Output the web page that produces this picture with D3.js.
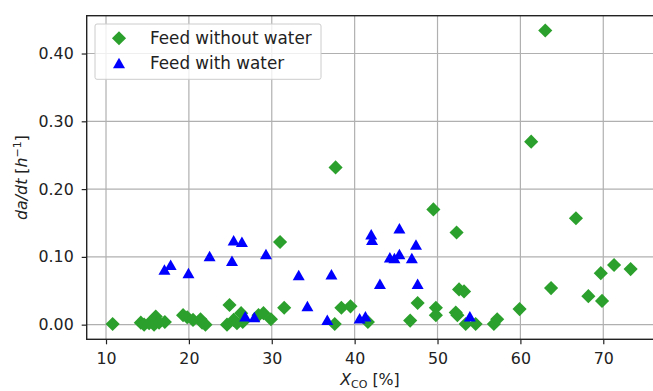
<!DOCTYPE html>
<html>
<head>
<meta charset="utf-8">
<script src="https://cdn.jsdelivr.net/npm/d3@7"></script>
<style>
  body { margin: 0; background: #fff; }
  svg { display: block; font-family: "DejaVu Sans", sans-serif; }
</style>
</head>
<body>
<div id="chart"></div>
<script>
// conversion X_CO [%] and deactivation rate da/dt [1/h]
const dryX = [10.8, 14.2, 14.6, 15.2, 15.8, 16.0, 16.4, 17.1, 19.3, 19.8, 20.5, 21.4, 21.6, 22.0,
  24.6, 24.9, 25.4, 25.8, 26.3, 26.5, 28.4, 29.0, 29.9, 31.0, 31.5, 37.6, 37.7, 38.4, 39.5, 41.6,
  46.7, 47.6, 49.5, 49.8, 49.8, 52.2, 52.4, 52.3, 52.6, 53.2, 53.4, 54.6, 56.8, 57.2, 59.9, 61.3,
  63.0, 63.7, 66.7, 68.2, 69.7, 69.85, 71.3, 73.3];
const dryY = [0.001, 0.003, 0.000, 0.002, 0.000, 0.012, 0.003, 0.004, 0.014, 0.011, 0.007, 0.008, 0.003, 0.000,
  0.000, 0.029, 0.007, 0.002, 0.017, 0.004, 0.014, 0.017, 0.008, 0.122, 0.025, 0.001, 0.232, 0.025, 0.027, 0.004,
  0.006, 0.032, 0.170, 0.025, 0.014, 0.018, 0.014, 0.136, 0.052, 0.049, 0.001, 0.001, 0.001, 0.008, 0.023, 0.270,
  0.434, 0.054, 0.157, 0.042, 0.076, 0.035, 0.088, 0.082];

const wetX = [17.05, 17.8, 19.95, 22.5, 25.2, 25.4, 26.4, 26.8, 27.9, 29.3, 33.25, 34.3, 36.7, 37.2,
  40.6, 41.3, 42.0, 42.1, 43.05, 44.25, 44.8, 45.4, 45.4, 46.9, 47.4, 47.6, 53.9];
const wetY = [0.081, 0.088, 0.076, 0.101, 0.094, 0.124, 0.122, 0.012, 0.011, 0.104, 0.073, 0.027, 0.007, 0.074,
  0.009, 0.012, 0.133, 0.125, 0.060, 0.099, 0.098, 0.142, 0.104, 0.098, 0.118, 0.060, 0.012];

const xTicks = [10, 20, 30, 40, 50, 60, 70];
const yTicks = [0, 0.1, 0.2, 0.3, 0.4];
const seriesNames = ["Feed without water", "Feed with water"];

const width = 653, height = 391;
const margin = { top: 15.7, right: -1, bottom: 51.7, left: 86.7 };
const green = "#2ca02c", blue = "#0000ff";

const x = d3.scaleLinear().domain([7.67, 76.12]).range([margin.left, width - margin.right]);
const y = d3.scaleLinear().domain([-0.0216, 0.4558]).range([height - margin.bottom, margin.top]);

const svg = d3.select("#chart").append("svg")
  .attr("width", width)
  .attr("height", height);

// grid
svg.append("g")
  .selectAll("line.vx")
  .data(xTicks)
  .join("line")
  .attr("x1", d => x(d)).attr("x2", d => x(d))
  .attr("y1", y.range()[0]).attr("y2", y.range()[1])
  .attr("stroke", "#b0b0b0").attr("stroke-width", 1.2);
svg.append("g")
  .selectAll("line.hy")
  .data(yTicks)
  .join("line")
  .attr("y1", d => y(d)).attr("y2", d => y(d))
  .attr("x1", x.range()[0]).attr("x2", x.range()[1])
  .attr("stroke", "#b0b0b0").attr("stroke-width", 1.2);

// axes
const xAxis = svg.append("g")
  .attr("transform", `translate(0,${y.range()[0]})`)
  .call(d3.axisBottom(x).tickValues(xTicks).tickFormat(d3.format("d")).tickSize(5).tickPadding(8));
const yAxis = svg.append("g")
  .attr("transform", `translate(${x.range()[0]},0)`)
  .call(d3.axisLeft(y).tickValues(yTicks).tickFormat(d3.format(".2f")).tickSize(5).tickPadding(8));

[xAxis, yAxis].forEach(a => {
  a.select(".domain").remove();
  a.selectAll("line").attr("stroke", "#222").attr("stroke-width", 1.2);
  a.selectAll("text").attr("font-size", 15.8).attr("fill", "#222")
    .attr("font-family", "DejaVu Sans, sans-serif");
});

// frame
svg.append("rect")
  .attr("x", x.range()[0]).attr("y", y.range()[1])
  .attr("width", x.range()[1] - x.range()[0])
  .attr("height", y.range()[0] - y.range()[1])
  .attr("fill", "none").attr("stroke", "#222").attr("stroke-width", 1.4);

// markers
const diamond = d3.symbol().type(d3.symbolSquare).size(100);
const triangle = "M0,-5.5L6,5L-6,5Z";

svg.append("g")
  .selectAll("path")
  .data(dryX.map((v, i) => [v, dryY[i]]))
  .join("path")
  .attr("d", diamond)
  .attr("transform", d => `translate(${x(d[0])},${y(d[1])}) rotate(45)`)
  .attr("fill", green);

svg.append("g")
  .selectAll("path")
  .data(wetX.map((v, i) => [v, wetY[i]]))
  .join("path")
  .attr("d", triangle)
  .attr("transform", d => `translate(${x(d[0])},${y(d[1])})`)
  .attr("fill", blue);

// legend
const legend = svg.append("g");
legend.append("rect")
  .attr("x", 95).attr("y", 24).attr("width", 226).attr("height", 55.3)
  .attr("rx", 2)
  .attr("fill", "#fff").attr("fill-opacity", 0.8)
  .attr("stroke", "#ccc").attr("stroke-width", 1);
legend.append("path")
  .attr("d", diamond)
  .attr("transform", "translate(119,38.3) rotate(45)")
  .attr("fill", green);
legend.append("path")
  .attr("d", triangle)
  .attr("transform", "translate(119,63.3)")
  .attr("fill", blue);
legend.selectAll("text")
  .data(seriesNames)
  .join("text")
  .attr("x", 150)
  .attr("y", (d, i) => 38.3 + i * 25)
  .attr("dy", "0.36em")
  .attr("font-size", 16.8)
  .attr("fill", "#222")
  .text(d => d);

// axis labels
const xl = svg.append("text")
  .attr("x", 370)
  .attr("y", 385)
  .attr("text-anchor", "middle")
  .attr("font-size", 15.8)
  .attr("fill", "#222");
xl.append("tspan").attr("font-style", "italic").text("X");
xl.append("tspan").attr("font-size", 11).attr("dy", 3).text("CO");
xl.append("tspan").attr("dy", -3).text(" [%]");

const yl = svg.append("text")
  .attr("transform", `translate(27,${(y.range()[0] + y.range()[1]) / 2}) rotate(-90)`)
  .attr("text-anchor", "middle")
  .attr("font-size", 15.8)
  .attr("fill", "#222");
yl.append("tspan").attr("font-style", "italic").text("da/dt");
yl.append("tspan").text(" [");
yl.append("tspan").attr("font-style", "italic").text("h");
yl.append("tspan").attr("font-size", 11).attr("dy", -6).text("−1");
yl.append("tspan").attr("dy", 6).text("]");
</script>
</body>
</html>
